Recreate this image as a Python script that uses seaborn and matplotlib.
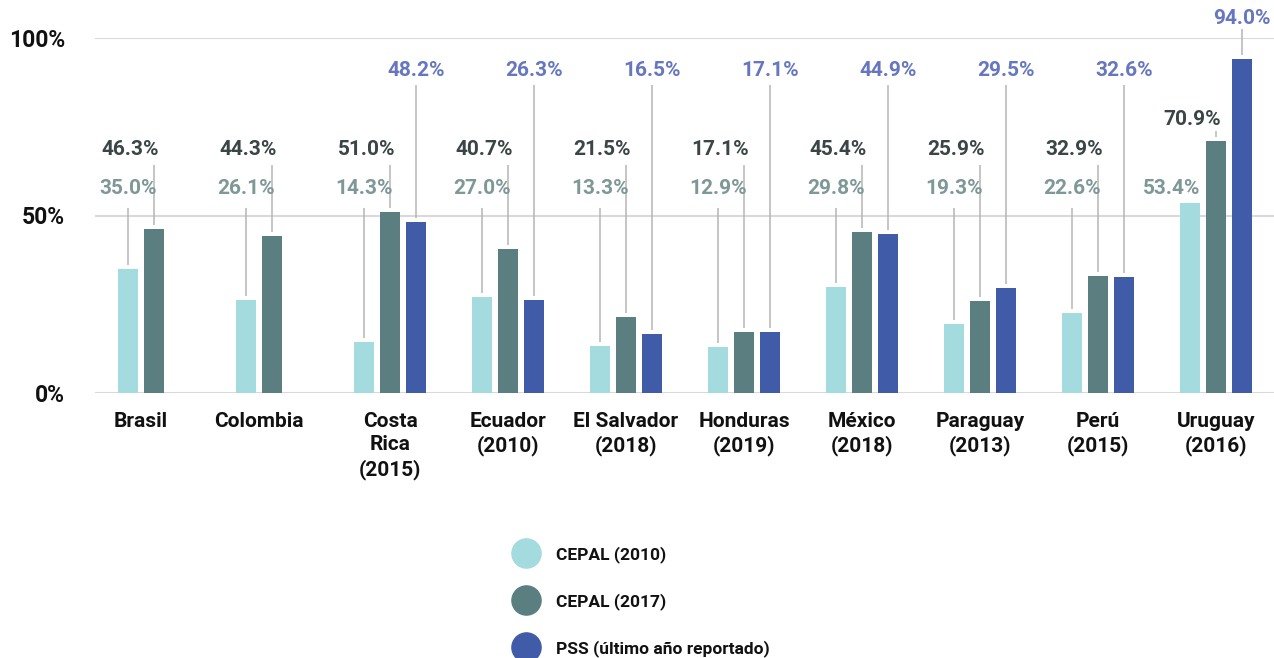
import numpy as np
import pandas as pd
import matplotlib
matplotlib.use("Agg")
import matplotlib.pyplot as plt
from matplotlib.lines import Line2D
import seaborn as sns

# ---------------- data ----------------
countries = ["Brasil", "Colombia", "Costa\nRica\n(2015)", "Ecuador\n(2010)",
             "El Salvador\n(2018)", "Honduras\n(2019)", "México\n(2018)",
             "Paraguay\n(2013)", "Perú\n(2015)", "Uruguay\n(2016)"]
series = ["CEPAL (2010)", "CEPAL (2017)", "PSS (último año reportado)"]
cepal_2010 = [35.0, 26.1, 14.3, 27.0, 13.3, 12.9, 29.8, 19.3, 22.6, 53.4]
cepal_2017 = [46.3, 44.3, 51.0, 40.7, 21.5, 17.1, 45.4, 25.9, 32.9, 70.9]
pss = [np.nan, np.nan, 48.2, 26.3, 16.5, 17.1, 44.9, 29.5, 32.6, 94.0]
y_ticks = [0, 50, 100]
y_tick_labels = ["0%", "50%", "100%"]

# ---------------- style / layout ----------------
bar_colors = ["#a3dbde", "#5b7f80", "#405ca8"]
label_colors = ["#7d9897", "#3b4545", "#6677bf"]
label_tiers = [57.5, 68.5, 90.8]          # label heights (axis units)
label_overrides = {(9, 1): 77.0, (9, 2): 105.5}
label_x_shift_px = {(9, 0): -18}
line_top_off_px = [19, 15, 14]
FONT = "Roboto"

df = pd.DataFrame({
    "country": np.repeat(countries, len(series)),
    "series": series * len(countries),
    "value": np.ravel(np.column_stack([cepal_2010, cepal_2017, pss])),
})

sns.set_theme(style="white")
plt.rcParams["font.family"] = [FONT, "DejaVu Sans"]

W, H = 1274, 658
fig = plt.figure(figsize=(W / 100, H / 100), dpi=100)
ax_l, ax_b, ax_w, ax_h = 95 / W, (H - 393) / H, 1180 / W, 355 / H
ax = fig.add_axes([ax_l, ax_b, ax_w, ax_h])

sns.barplot(data=df, x="country", y="value", hue="series", order=countries,
            hue_order=series, palette=bar_colors, width=0.661, gap=0.21,
            errorbar=None, legend=False, saturation=1, linewidth=0, ax=ax)

ax.set_xlim(-0.5, len(countries) - 0.5)
ax.set_ylim(0, 100)
px_x = (len(countries)) / 1180.0
px_y = 100.0 / 355.0

for s in ax.spines.values():
    s.set_visible(False)
ax.set_yticks(y_ticks, y_tick_labels)
ax.yaxis.grid(True, color="#d9d9d9", linewidth=1.5)
ax.set_axisbelow(True)
ax.tick_params(axis="y", length=0, pad=21.5, labelsize=16.5, labelcolor="#111111")
for t in ax.get_yticklabels():
    t.set_fontweight("bold")
ax.set_xlabel("")
ax.set_ylabel("")

# labels + leader lines
centers = {}
for si, cont in enumerate(ax.containers):
    for p in cont.patches:
        h = p.get_height()
        if not np.isfinite(h) or h <= 0:
            continue
        cx = p.get_x() + p.get_width() / 2
        ci = int(round(cx))
        centers.setdefault(ci, []).append(cx)
        ly = label_overrides.get((ci, si), label_tiers[si])
        tx = cx + label_x_shift_px.get((ci, si), 0) * px_x
        if si == 1:
            ax.text(cx + 5 * px_x, ly, f"{h:.1f}%", ha="right", va="center",
                    fontsize=15, fontweight="bold", color=label_colors[si],
                    clip_on=False)
        else:
            ax.text(tx, ly, f"{h:.1f}%", ha="center", va="center",
                    fontsize=15, fontweight="bold", color=label_colors[si],
                    clip_on=False)
        bottom = h + 4 * px_y
        top = ly - line_top_off_px[si] * px_y
        if (ci, si) in label_overrides:
            top = ly - 11 * px_y
        if top - bottom < 5 * px_y:
            top = ly - 11 * px_y
        if top > bottom:
            ax.plot([cx, cx], [bottom, top], color="#b5b5b5", lw=1.1,
                    clip_on=False, solid_capstyle="butt")

xt = [np.mean(centers[i]) for i in range(len(countries))]
ax.set_xticks(xt, countries)
ax.tick_params(axis="x", length=0, pad=13.5, labelsize=15, labelcolor="#111111")
for t in ax.get_xticklabels():
    t.set_fontweight("bold")
    t.set_linespacing(1.3)
    t.set_verticalalignment("top")

handles = [Line2D([], [], marker="o", ls="", markersize=21, color=c) for c in bar_colors]
fig.legend(handles, series, loc="upper left", bbox_to_anchor=(493 / W, 1 - 530 / H),
           frameon=False, labelspacing=1.75, handletextpad=0.75, borderpad=0.4,
           prop={"family": [FONT, "DejaVu Sans"], "weight": "bold", "size": 12.5},
           labelcolor="#111111")

fig.savefig("out.png", dpi=100)
